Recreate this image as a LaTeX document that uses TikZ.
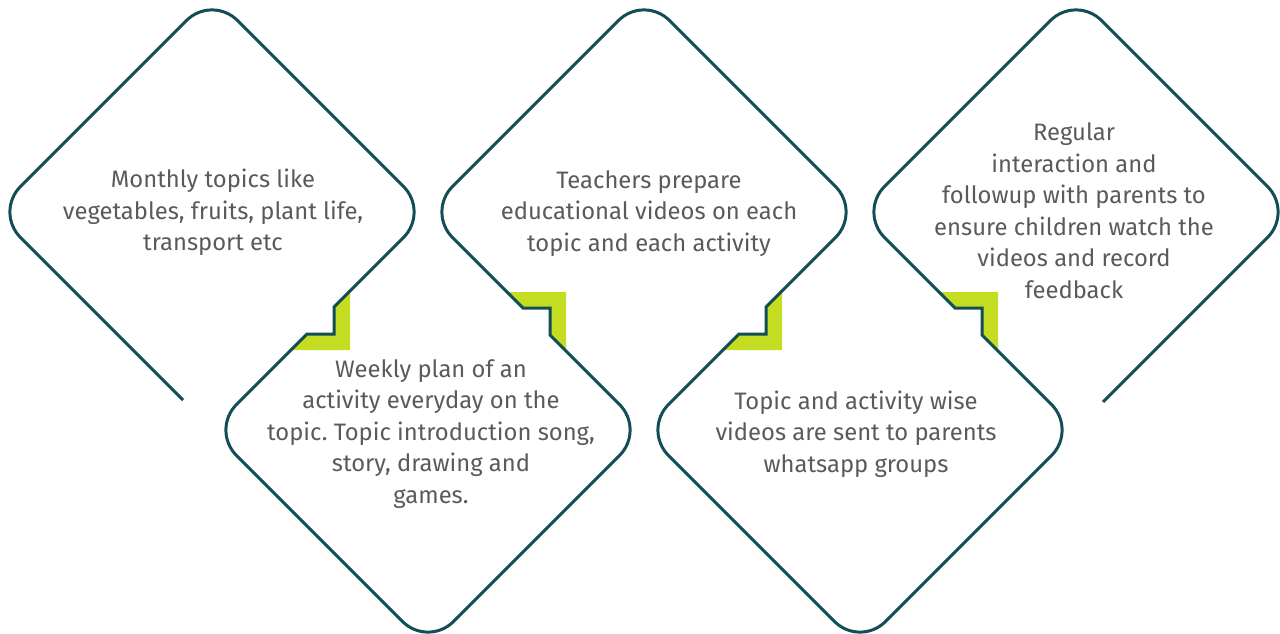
\documentclass[tikz,border=0pt]{standalone}
\usepackage{fontspec}
\setmainfont{Fira Sans}
\usetikzlibrary{calc}
\definecolor{lineteal}{HTML}{124E55}
\definecolor{limegreen}{HTML}{C4DC22}
\definecolor{txtgray}{HTML}{5A5A5A}
\frenchspacing
\tikzset{
  rc/.style n args={3}{insert path={-- ($(#2)!36pt!(#1)$) .. controls ($(#2)!16.1pt!(#1)$) and ($(#2)!16.1pt!(#3)$) .. ($(#2)!36pt!(#3)$)}},
  outline/.style={draw=lineteal, line width=3pt, line join=miter},
  notchfill/.style={fill=limegreen, draw=none},
  label/.style={text=txtgray, align=center, font=\fontsize{23.8}{31.5}\selectfont\frenchspacing, inner sep=0pt}
}
\begin{document}
\begin{tikzpicture}[x=1pt,y=-1pt]
\useasboundingbox (0,0) rectangle (1280,633);
% diamond vertices
\coordinate (S) at (183,400);
\coordinate (L1) at (-5,212);  \coordinate (T1) at (212,-5);  \coordinate (R1) at (429,212);
\coordinate (L2) at (211,430); \coordinate (B2) at (428,647); \coordinate (R2) at (645,430);
\coordinate (L3) at (427,212); \coordinate (T3) at (644,-5);  \coordinate (R3) at (861,212);
\coordinate (L4) at (643,430); \coordinate (B4) at (860,647); \coordinate (R4) at (1077,430);
\coordinate (L5) at (859,212); \coordinate (T5) at (1076,-5); \coordinate (R5) at (1293,212);
\coordinate (E) at (1103,402);
% notches
\coordinate (Na1) at (334,307); \coordinate (Na2) at (334,334); \coordinate (Na3) at (307,334);
\coordinate (Nb1) at (550,335); \coordinate (Nb2) at (550,308); \coordinate (Nb3) at (523,308);
\coordinate (Nc1) at (766,307); \coordinate (Nc2) at (766,334); \coordinate (Nc3) at (739,334);
\coordinate (Nd1) at (982,335); \coordinate (Nd2) at (982,308); \coordinate (Nd3) at (955,308);
% green corners
\fill[notchfill] (Na1) -- (350,291) -- (350,350) -- (291,350) -- (Na3) -- (Na2) -- cycle;
\fill[notchfill] (Nb3) -- (507,292) -- (566,292) -- (566,351) -- (Nb1) -- (Nb2) -- cycle;
\fill[notchfill] (Nc1) -- (782,291) -- (782,350) -- (723,350) -- (Nc3) -- (Nc2) -- cycle;
\fill[notchfill] (Nd3) -- (939,292) -- (998,292) -- (998,351) -- (Nd1) -- (Nd2) -- cycle;
% continuous outline
\draw[outline] (S)
  [rc={S}{L1}{T1}] [rc={L1}{T1}{R1}] [rc={T1}{R1}{Na1}]
  -- (Na1) -- (Na2) -- (Na3)
  [rc={Na3}{L2}{B2}] [rc={L2}{B2}{R2}] [rc={B2}{R2}{Nb1}]
  -- (Nb1) -- (Nb2) -- (Nb3)
  [rc={Nb3}{L3}{T3}] [rc={L3}{T3}{R3}] [rc={T3}{R3}{Nc1}]
  -- (Nc1) -- (Nc2) -- (Nc3)
  [rc={Nc3}{L4}{B4}] [rc={L4}{B4}{R4}] [rc={B4}{R4}{Nd1}]
  -- (Nd1) -- (Nd2) -- (Nd3)
  [rc={Nd3}{L5}{T5}] [rc={L5}{T5}{R5}] [rc={T5}{R5}{E}]
  -- (E);
% texts
\node[label] (t1) at (213,212.5) {Monthly topics like\\vegetables, fruits, plant life,\\transport etc};
\node[label] (t2) at (431,434) {Weekly plan of an\\activity everyday on the\\topic. Topic introduction song,\\story, drawing and\\games.};
\node[label] (t3) at (649,213.5) {Teachers prepare\\educational videos on each\\topic and each activity};
\node[label] (t4) at (856,434) {Topic and activity wise\\videos are sent to parents\\whatsapp groups};
\node[label] (t5) at (1074,210.5) {Regular\\interaction and\\followup with parents to\\ensure children watch the\\videos and record\\feedback};
\end{tikzpicture}
\end{document}
